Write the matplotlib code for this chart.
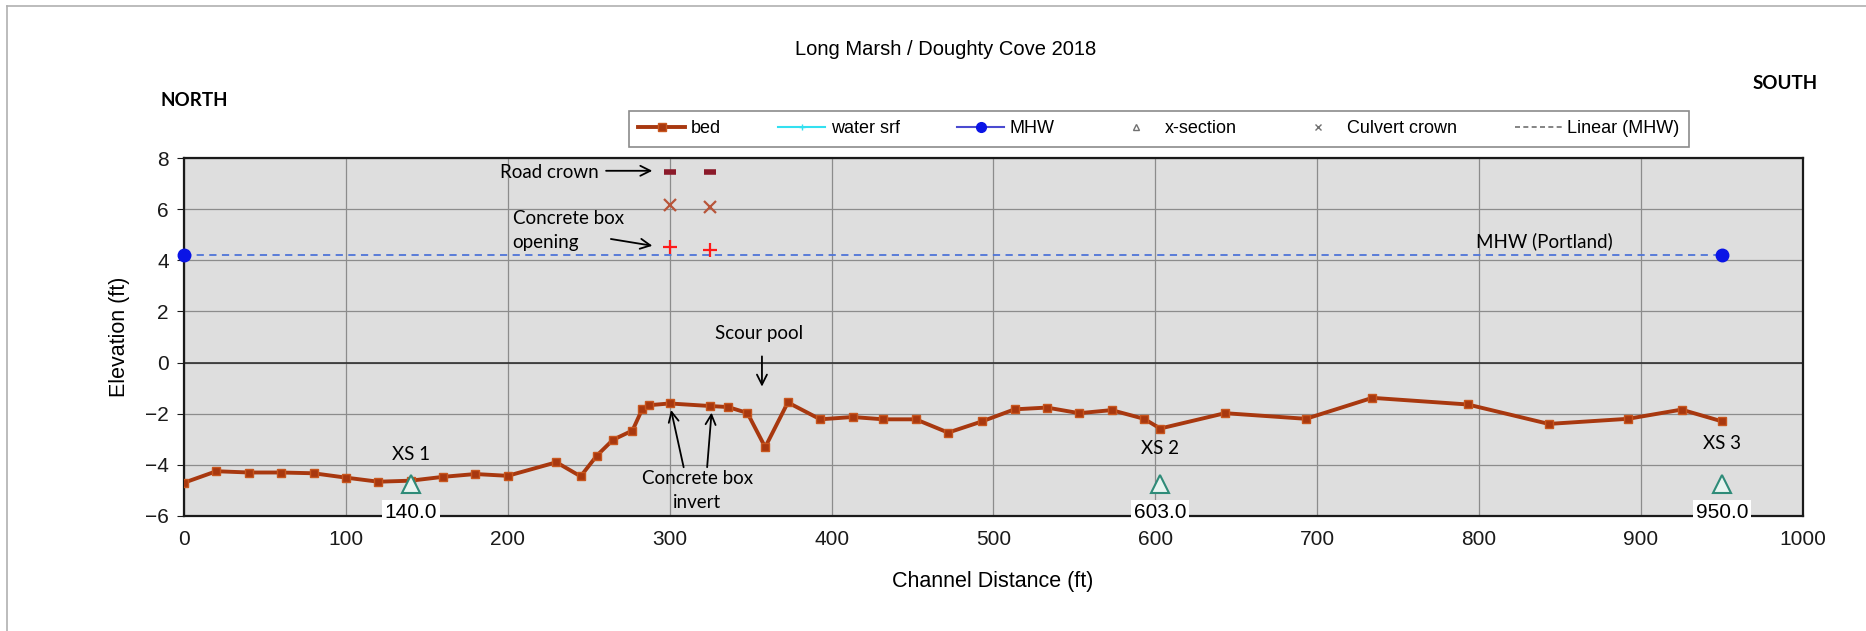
import numpy as np
import matplotlib.pyplot as plt
from matplotlib.lines import Line2D

# bed profile (channel distance ft, elevation ft)
bed_x = [0, 20, 40, 60, 80, 100, 120, 140, 160, 180, 200, 230, 245, 255, 265, 277,
         283, 287, 300, 325, 336, 348, 359, 373, 393, 413, 432, 452, 472, 493, 513,
         533, 553, 573, 593, 603, 643, 693, 734, 793, 843, 892, 925, 950]
bed_y = [-4.7, -4.25, -4.3, -4.3, -4.33, -4.5, -4.66, -4.62, -4.47, -4.36, -4.43, -3.9,
         -4.45, -3.64, -3.02, -2.66, -1.83, -1.67, -1.6, -1.7, -1.74, -1.97, -3.31, -1.56,
         -2.22, -2.13, -2.22, -2.22, -2.74, -2.3, -1.83, -1.76, -1.98, -1.86, -2.2, -2.58,
         -1.98, -2.2, -1.38, -1.64, -2.4, -2.2, -1.84, -2.3]

mhw_x = [0, 950]
mhw_y = [4.2, 4.2]

xs_x = [140, 603, 950]
xs_y = [-4.75, -4.75, -4.75]
xs_names = ["XS 1", "XS 2", "XS 3"]
xs_name_y = [-3.6, -3.35, -3.15]

culvert_x = [300, 325]
road_crown_y = [7.45, 7.45]
culvert_crown_y = [6.15, 6.1]
box_opening_y = [4.52, 4.42]

calibri = ["Lato", "DejaVu Sans"]
arial = ["Liberation Sans", "DejaVu Sans"]
plt.rcParams['font.family'] = arial

fig = plt.figure(figsize=(18.66, 6.31), dpi=100)
ax = fig.add_axes([0.0986, 0.1823, 0.8676, 0.5673])
ax.set_facecolor('#dedede')

ax.set_xlim(0, 1000)
ax.set_ylim(-6, 8)
ax.set_xticks(np.arange(0, 1001, 100))
ax.set_yticks(np.arange(-6, 9, 2))
ax.grid(True, color='#8c8c8c', lw=0.9)
ax.set_axisbelow(True)
ax.axhline(0, color='#303030', lw=1.2, zorder=1)
ax.tick_params(axis='both', labelsize=15, colors='#1a1a1a')
ax.tick_params(axis='x', length=0, pad=10)
ax.tick_params(axis='y', length=5, pad=6)
for side in ['top', 'bottom', 'right', 'left']:
    ax.spines[side].set_color('#1a1a1a')
    ax.spines[side].set_linewidth(1.6)

# MHW line + points
ax.plot(mhw_x, mhw_y, color='#4f74d8', lw=1.3, ls=(0, (4, 3)), zorder=3)
ax.plot(mhw_x, mhw_y, 'o', color='#0a14e6', ms=9, zorder=5, clip_on=False)

# bed
ax.plot(bed_x, bed_y, color='#a8380f', lw=2.8, marker='s', ms=6,
        mfc='#a8380f', mec='#c8561e', zorder=4)

# culvert markers
ax.plot(culvert_x, road_crown_y, '_', color='#8b1a2a', ms=8, mew=4, zorder=5)
ax.plot(culvert_x, culvert_crown_y, 'x', color='#b8553a', ms=9, mew=1.6, zorder=5)
ax.plot(culvert_x, box_opening_y, '+', color='#ff1a1a', ms=10, mew=1.6, zorder=5)

# cross sections
ax.plot(xs_x, xs_y, '^', ms=13, mfc='#e8f4f0', mec='#2e8b78', mew=1.5, ls='none', zorder=5)
for x, ty, name in zip(xs_x, xs_name_y, xs_names):
    ax.text(x, ty, name, ha='center', va='center', fontsize=13.5, family=calibri)
    ax.text(x, -5.85, "{:.1f}".format(x), ha='center', va='center', fontsize=15,
            bbox=dict(facecolor='white', edgecolor='none', pad=2), zorder=6, clip_on=False)

arrow = dict(arrowstyle='->', color='black', lw=1.3, mutation_scale=18)
ax.text(256, 7.45, "Road crown", ha='right', va='center', fontsize=13.5, family=calibri)
ax.annotate('', xy=(291, 7.5), xytext=(259, 7.5), arrowprops=arrow)
ax.text(203, 5.17, "Concrete box\nopening", ha='left', va='center', fontsize=13.5,
        family=calibri, linespacing=1.5)
ax.annotate('', xy=(291, 4.55), xytext=(262, 4.85), arrowprops=arrow)
ax.text(355, 1.12, "Scour pool", ha='center', va='center', fontsize=13.5, family=calibri)
ax.annotate('', xy=(357, -1.05), xytext=(357, 0.35), arrowprops=arrow)
ax.text(317, -5.0, "Concrete box\ninvert", ha='center', va='center', fontsize=13.5,
        family=calibri, linespacing=1.5)
ax.annotate('', xy=(300.5, -1.75), xytext=(309, -4.2), arrowprops=arrow)
ax.annotate('', xy=(326, -1.85), xytext=(323, -4.2), arrowprops=arrow)
ax.text(840, 4.75, "MHW (Portland)", ha='center', va='center', fontsize=13.5, family=calibri)

# figure texts
fig.text(0.507, 0.921, "Long Marsh / Doughty Cove 2018", ha='center', va='center', fontsize=14.5)
fig.text(0.104, 0.84, "NORTH", ha='center', va='center', fontsize=13.5, weight='bold', family=calibri)
fig.text(0.9566, 0.868, "SOUTH", ha='center', va='center', fontsize=13.5, weight='bold', family=calibri)
fig.text(0.064, 0.466, "Elevation (ft)", rotation=90, ha='center', va='center', fontsize=15.5)
fig.text(0.532, 0.078, "Channel Distance (ft)", ha='center', va='center', fontsize=15.5)

# chart area border (left and top edges)
fig.add_artist(Line2D([0.004, 0.004], [0, 0.99], color='#b0b0b0', lw=1.2))
fig.add_artist(Line2D([0.004, 1.0], [0.99, 0.99], color='#b0b0b0', lw=1.2))

handles = [
    Line2D([], [], color='#a8380f', lw=2.8, marker='s', ms=6, mfc='#a8380f', mec='#c8561e'),
    Line2D([], [], color='#33e0f0', lw=1.5, marker='+', ms=4),
    Line2D([], [], color='#4b4bd0', lw=1.5, marker='o', mfc='#0a14e6', mec='#0a14e6', ms=7),
    Line2D([], [], color='#707070', ls='none', marker='^', mfc='none', ms=5),
    Line2D([], [], color='#707070', ls='none', marker='x', ms=5),
    Line2D([], [], color='#707070', lw=1.2, ls=(0, (3, 2))),
]
labels = ["bed", "water srf", "MHW", "x-section", "Culvert crown", "Linear (MHW)"]
leg = fig.legend(handles, labels, loc='center', bbox_to_anchor=(0.621, 0.7956), ncol=6,
                 fontsize=13, frameon=True, fancybox=False, edgecolor='#6e6e6e',
                 handlelength=2.6, columnspacing=3.2, handletextpad=0.3,
                 borderpad=0.5, borderaxespad=0)
leg.get_frame().set_linewidth(1.2)

fig.savefig("out.png", dpi=100)
